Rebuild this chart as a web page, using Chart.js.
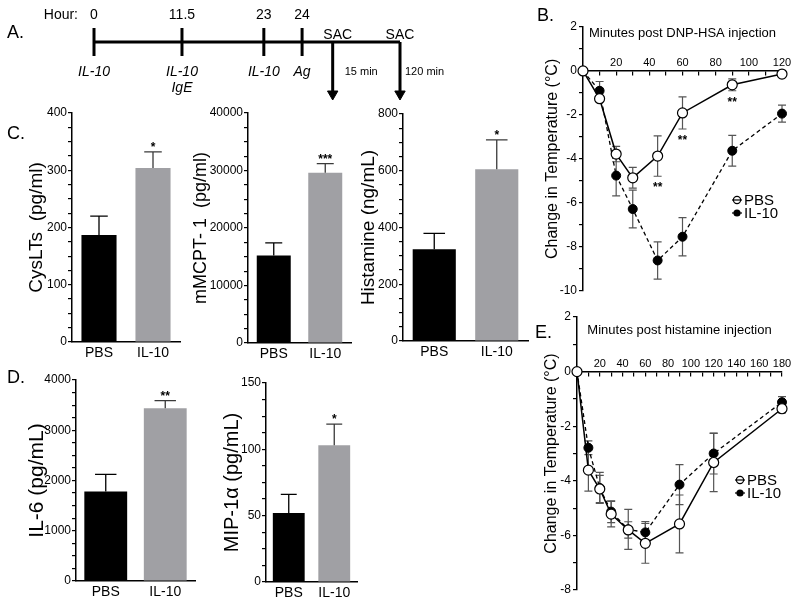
<!DOCTYPE html>
<html>
<head>
<meta charset="utf-8">
<script src="https://cdn.jsdelivr.net/npm/chart.js@4.4.0/dist/chart.umd.min.js"></script>
<style>
body { margin: 0; background: #fff; width: 800px; height: 605px; position: relative; overflow: hidden; font-family: "Liberation Sans", Arial, sans-serif; }
canvas { position: absolute; }
.panel { position: absolute; font-size: 18px; color: #000; }
</style>
</head>
<body>
<canvas id="timeline" width="470" height="110" style="left:0;top:0"></canvas>
<canvas id="cyslts" width="190" height="265" style="left:0;top:100px"></canvas>
<canvas id="mmcpt" width="170" height="265" style="left:190px;top:100px"></canvas>
<canvas id="histamine" width="170" height="265" style="left:360px;top:100px"></canvas>
<canvas id="il6" width="200" height="245" style="left:0;top:360px"></canvas>
<canvas id="mip" width="170" height="245" style="left:200px;top:360px"></canvas>
<canvas id="tempB" width="280" height="300" style="left:520px;top:0"></canvas>
<canvas id="tempE" width="280" height="305" style="left:520px;top:300px"></canvas>
<div class="panel" style="left:7px;top:22px">A.</div>
<div class="panel" style="left:537px;top:5px">B.</div>
<div class="panel" style="left:7px;top:123px">C.</div>
<div class="panel" style="left:7px;top:367px">D.</div>
<div class="panel" style="left:535px;top:322px">E.</div>
<script>
Chart.defaults.font.family = '"Liberation Sans", Arial, sans-serif'
Chart.defaults.color = '#000'
Chart.defaults.animation = false

// panel A timeline
var hourLabels = ['0', '11.5', '23', '24']
var hourTreatments = [['IL-10'], ['IL-10', 'IgE'], ['IL-10'], ['Ag']]
var sacLabels = ['15 min', '120 min']
// schematic spacing of the timeline (not to scale): 4 injections then 2 sacrifices
var timelineSlots = [0, 1.15, 2.22, 2.72, 3.12, 4.0]

// bar panels C and D
var groups = ['PBS', 'IL-10']
var groupColors = ['#000000', '#a0a0a4']

var cysLTs = [187, 304]
var cysLTsErr = [33, 28]
var cysLTsStars = ['', '*']

var mmcpt = [15200, 29600]
var mmcptErr = [2200, 1600]
var mmcptStars = ['', '***']

var histamine = [323, 605]
var histamineErr = [56, 104]
var histamineStars = ['', '*']

var il6 = [1780, 3440]
var il6Err = [340, 150]
var il6Stars = ['', '**']

var mip = [52, 103]
var mipErr = [14, 16]
var mipStars = ['', '*']

// panel B: DNP-HSA
var minutesB = [0, 10, 20, 30, 45, 60, 90, 120]
var pbsB = [0, -1.26, -3.78, -4.86, -3.87, -1.91, -0.63, -0.14]
var pbsBErr = [0, 0.1, 0.35, 0.47, 0.92, 0.73, 0.27, 0.05]
var il10B = [0, -0.9, -4.76, -6.28, -8.62, -7.54, -3.63, -1.94]
var il10BErr = [0, 0.42, 0.92, 0.86, 0.85, 0.87, 0.7, 0.39]
var starsB = ['', '', '', '', '**', '**', '**', '']

// panel E: histamine
var minutesE = [0, 10, 20, 30, 45, 60, 90, 120, 180]
var pbsE = [0, -3.61, -4.3, -5.22, -5.8, -6.29, -5.58, -3.33, -1.36]
var pbsEErr = [0, 0.77, 0.5, 0.47, 0.3, 0.73, 1.06, 1.07, 0.15]
var il10E = [0, -2.79, -4.26, -5.13, -5.78, -5.89, -4.14, -3.0, -1.12]
var il10EErr = [0, 0.25, 0.57, 0.4, 0.73, 0.4, 0.73, 0.75, 0.2]

var FONT = '"Liberation Sans", Arial, sans-serif'

// ---------- timeline ----------
var timelineText = {
  id: 'timelineText',
  afterDraw: function(chart) {
    var ctx = chart.ctx, x = chart.scales.x, y = chart.scales.y
    ctx.save()
    ctx.fillStyle = '#000'
    ctx.textBaseline = 'middle'
    ctx.font = '14px ' + FONT
    ctx.textAlign = 'right'
    ctx.fillText('Hour:', x.getPixelForValue(timelineSlots[0]) - 16, y.getPixelForValue(2.7))
    ctx.textAlign = 'center'
    for (var i = 0; i < hourLabels.length; i++) {
      var px = x.getPixelForValue(timelineSlots[i])
      ctx.font = '14px ' + FONT
      ctx.fillText(hourLabels[i], px, y.getPixelForValue(2.7))
      ctx.font = 'italic 14px ' + FONT
      for (var j = 0; j < hourTreatments[i].length; j++) {
        ctx.fillText(hourTreatments[i][j], px, y.getPixelForValue(-3.0 - j * 1.6))
      }
    }
    for (var k = 0; k < sacLabels.length; k++) {
      var sx = x.getPixelForValue(timelineSlots[4 + k])
      ctx.font = '14px ' + FONT
      ctx.textAlign = 'center'
      ctx.fillText('SAC', sx + (k ? 0 : 5), y.getPixelForValue(0.7))
      ctx.font = '11px ' + FONT
      ctx.textAlign = 'left'
      ctx.fillText(sacLabels[k], sx + (k ? 5 : 12), y.getPixelForValue(-3.0))
    }
    ctx.restore()
  }
}

var sacSlots = timelineSlots.slice(4)
new Chart(document.getElementById('timeline'), {
  type: 'scatter',
  data: {
    datasets: [
      { type: 'line', data: [{x: timelineSlots[0], y: 0}, {x: timelineSlots[5], y: 0}], borderColor: '#000', borderWidth: 3, pointRadius: 0 },
      { data: timelineSlots.slice(0, 4).map(function(s) { return {x: s, y: 0} }), pointStyle: 'line', rotation: 90, pointRadius: 14, borderWidth: 3, borderColor: '#000' },
      { type: 'line', data: [{x: sacSlots[0], y: 0}, {x: sacSlots[0], y: -5.0}, {x: sacSlots[0], y: null}, {x: sacSlots[1], y: 0}, {x: sacSlots[1], y: -5.0}],
        borderColor: '#000', borderWidth: 3, pointRadius: 0, spanGaps: false },
      { data: sacSlots.map(function(s) { return {x: s, y: -5.2} }), pointStyle: 'triangle', rotation: 180, pointRadius: 6, backgroundColor: '#000', borderColor: '#000', borderWidth: 1 }
    ]
  },
  options: {
    responsive: false,
    layout: { padding: 0, autoPadding: false },
    plugins: { legend: { display: false }, tooltip: { enabled: false } },
    scales: {
      x: { type: 'linear', display: false, min: -1.2288, max: 4.9150 },
      y: { display: false, min: -6.8, max: 4.2 }
    }
  },
  plugins: [timelineText]
})

// ---------- bar panels ----------
var barErrors = {
  id: 'barErrors',
  afterDatasetsDraw: function(chart, args, opts) {
    var ctx = chart.ctx, y = chart.scales.y, ds = chart.data.datasets[0]
    ctx.save()
    chart.getDatasetMeta(0).data.forEach(function(bar, i) {
      var top = y.getPixelForValue(ds.data[i])
      var tip = y.getPixelForValue(ds.data[i] + opts.errors[i])
      var cap = bar.width * 0.25
      ctx.strokeStyle = i ? '#3a3a3a' : '#000'
      ctx.lineWidth = 1.3
      ctx.beginPath()
      ctx.moveTo(bar.x, top); ctx.lineTo(bar.x, tip)
      ctx.moveTo(bar.x - cap, tip); ctx.lineTo(bar.x + cap, tip)
      ctx.stroke()
      if (opts.stars[i]) {
        ctx.fillStyle = '#000'
        ctx.font = 'bold 12px ' + FONT
        ctx.textAlign = 'center'
        ctx.textBaseline = 'alphabetic'
        ctx.fillText(opts.stars[i], bar.x, tip - 1)
      }
    })
    ctx.restore()
  }
}

function barChart(id, values, errors, stars, cfg) {
  var minor = cfg.step / 4
  return new Chart(document.getElementById(id), {
    type: 'bar',
    data: {
      labels: groups,
      datasets: [{ data: values, backgroundColor: groupColors, barPercentage: cfg.bar, categoryPercentage: 1 }]
    },
    options: {
      responsive: false,
      layout: { padding: { top: cfg.top, right: cfg.right, left: 0, bottom: 0 } },
      plugins: { legend: { display: false }, tooltip: { enabled: false }, barErrors: { errors: errors, stars: stars } },
      scales: {
        x: {
          grid: { display: false, drawTicks: false },
          border: { color: '#000', width: 1.5 },
          ticks: { font: { size: 14 }, padding: 3 },
          afterFit: function(s) { s.height = cfg.xh }
        },
        y: {
          min: 0, max: cfg.max,
          border: { color: '#000', width: 1.5 },
          grid: { drawOnChartArea: false, tickLength: 4, color: '#000', lineWidth: 1.2 },
          ticks: {
            stepSize: minor, autoSkip: false, padding: 1, font: { size: 12 },
            callback: function(v) { return Math.abs(v % cfg.step) < 1e-6 ? String(v) : '' }
          },
          title: { display: true, text: cfg.title, font: { size: cfg.tsize }, padding: { top: cfg.tpad, bottom: 0 } },
          afterFit: function(s) { s.width = cfg.axis }
        }
      }
    },
    plugins: [barErrors]
  })
}

barChart('cyslts', cysLTs, cysLTsErr, cysLTsStars,
  { max: 400, step: 100, title: 'CysLTs  (pg/ml)', tsize: 19, tpad: 25, axis: 72, top: 13, xh: 23, right: 10, bar: 0.65 })
barChart('mmcpt', mmcpt, mmcptErr, mmcptStars,
  { max: 40000, step: 10000, title: 'mMCPT- 1  (pg/ml)', tsize: 18, tpad: 0, axis: 58, top: 13, xh: 22, right: 9, bar: 0.66 })
barChart('histamine', histamine, histamineErr, histamineStars,
  { max: 800, step: 200, title: 'Histamine (ng/mL)', tsize: 19, tpad: -3, axis: 43, top: 14, xh: 24, right: 2, bar: 0.69 })
barChart('il6', il6, il6Err, il6Stars,
  { max: 4000, step: 1000, title: 'IL-6 (pg/mL)', tsize: 21, tpad: 25, axis: 76, top: 20, xh: 24, right: 5, bar: 0.72 })
barChart('mip', mip, mipErr, mipStars,
  { max: 150, step: 50, title: 'MIP-1\u03b1 (pg/mL)', tsize: 20, tpad: 20, axis: 66, top: 23, xh: 23, right: 13, bar: 0.7 })

// ---------- temperature panels ----------
var tempExtras = {
  id: 'tempExtras',
  beforeDatasetsDraw: function(chart, args, opts) {
    var ctx = chart.ctx, ys = chart.scales.y
    ctx.save()
    ctx.strokeStyle = '#555'
    ctx.lineWidth = 1.2
    opts.errors.forEach(function(errs, d) {
      var data = chart.data.datasets[d].data
      chart.getDatasetMeta(d).data.forEach(function(pt, i) {
        if (!errs[i]) return
        var y1 = ys.getPixelForValue(data[i].y + errs[i])
        var y2 = ys.getPixelForValue(data[i].y - errs[i])
        ctx.beginPath()
        ctx.moveTo(pt.x, y1); ctx.lineTo(pt.x, y2)
        ctx.moveTo(pt.x - 4, y1); ctx.lineTo(pt.x + 4, y1)
        ctx.moveTo(pt.x - 4, y2); ctx.lineTo(pt.x + 4, y2)
        ctx.stroke()
      })
    })
    ctx.restore()
  },
  afterDraw: function(chart, args, opts) {
    var ctx = chart.ctx, area = chart.chartArea, ys = chart.scales.y
    ctx.save()
    ctx.fillStyle = '#000'
    ctx.textAlign = 'center'
    ctx.textBaseline = 'middle'
    ctx.font = '13px ' + FONT
    ctx.fillText(opts.title, (area.left + area.right) / 2, area.top + opts.titleDy)
    // significance stars under PBS points
    ctx.font = 'bold 12px ' + FONT
    ctx.textBaseline = 'alphabetic'
    var pbs = chart.data.datasets[0].data
    chart.getDatasetMeta(0).data.forEach(function(pt, i) {
      if (!opts.stars[i]) return
      var yb = ys.getPixelForValue(pbs[i].y - opts.errors[0][i])
      ctx.fillText(opts.stars[i], pt.x, yb + 15)
    })
    // legend
    ctx.font = '15px ' + FONT
    ctx.textAlign = 'left'
    ctx.textBaseline = 'middle'
    chart.data.datasets.forEach(function(ds, d) {
      var lx = opts.legend.x, ly = opts.legend.y + d * 13
      ctx.strokeStyle = '#000'
      ctx.lineWidth = 1.2
      ctx.beginPath(); ctx.moveTo(lx - 5, ly); ctx.lineTo(lx + 5, ly); ctx.stroke()
      ctx.beginPath(); ctx.arc(lx, ly, 3.6, 0, Math.PI * 2)
      if (d) { ctx.fillStyle = '#000'; ctx.fill() } else { ctx.stroke() }
      ctx.fillStyle = '#000'
      ctx.fillText(ds.label, lx + 7, ly + 1)
    })
    ctx.restore()
  }
}

function points(xs, ys) {
  return xs.map(function(x, i) { return {x: x, y: ys[i]} })
}

function tempChart(id, minutes, pbs, pbsErr, il10, il10Err, stars, cfg) {
  return new Chart(document.getElementById(id), {
    type: 'line',
    data: {
      datasets: [
        { label: 'PBS', data: points(minutes, pbs), borderColor: '#000', borderWidth: 1.5, tension: 0, clip: false,
          pointRadius: 5, pointBackgroundColor: '#fff', pointBorderColor: '#000', pointBorderWidth: 1.2 },
        { label: 'IL-10', data: points(minutes, il10), borderColor: '#000', borderWidth: 1.3, borderDash: [4, 3], tension: 0, clip: false,
          pointRadius: 4.5, pointBackgroundColor: '#000', pointBorderColor: '#000', pointBorderWidth: 1 }
      ]
    },
    options: {
      responsive: false,
      layout: { padding: { top: cfg.top, right: 18, bottom: cfg.bottom, left: 0 }, autoPadding: false },
      plugins: {
        legend: { display: false }, tooltip: { enabled: false },
        tempExtras: { errors: [pbsErr, il10Err], stars: stars, title: cfg.title, titleDy: cfg.titleDy, legend: cfg.legend }
      },
      scales: {
        x: {
          type: 'linear', position: { y: 0 }, min: 0, max: cfg.xmax,
          border: { color: '#000', width: 1.5 },
          grid: { drawOnChartArea: false, tickLength: 4, color: '#000', lineWidth: 1.2 },
          ticks: {
            stepSize: 10, autoSkip: false, maxRotation: 0, padding: -18.6, font: { size: 11 },
            callback: function(v) { return (v && v % 20 === 0) ? String(v) : '' }
          }
        },
        y: {
          min: cfg.ymin, max: 2,
          border: { color: '#000', width: 1.5 },
          grid: { drawOnChartArea: false, tickLength: 4, color: '#000', lineWidth: 1.2 },
          ticks: {
            stepSize: 1, autoSkip: false, padding: 2, font: { size: 12 },
            callback: function(v) { return v % 2 === 0 ? String(v) : '' }
          },
          title: { display: true, text: 'Change in Temperature (\u00b0C)', font: { size: 16 }, padding: { top: cfg.tpad, bottom: 0 } },
          afterFit: function(s) { s.width = cfg.axis }
        }
      }
    },
    plugins: [tempExtras]
  })
}

tempChart('tempB', minutesB, pbsB, pbsBErr, il10B, il10BErr, starsB,
  { xmax: 120, ymin: -10, top: 27, bottom: 7, axis: 63, tpad: 23, title: 'Minutes post DNP-HSA injection', titleDy: 6, legend: { x: 217, y: 200 } })
tempChart('tempE', minutesE, pbsE, pbsEErr, il10E, il10EErr, ['', '', '', '', '', '', '', '', ''],
  { xmax: 180, ymin: -8, top: 17, bottom: 15, axis: 57, tpad: 22, title: 'Minutes post histamine injection', titleDy: 13, legend: { x: 220, y: 180 } })
</script>
</body>
</html>
